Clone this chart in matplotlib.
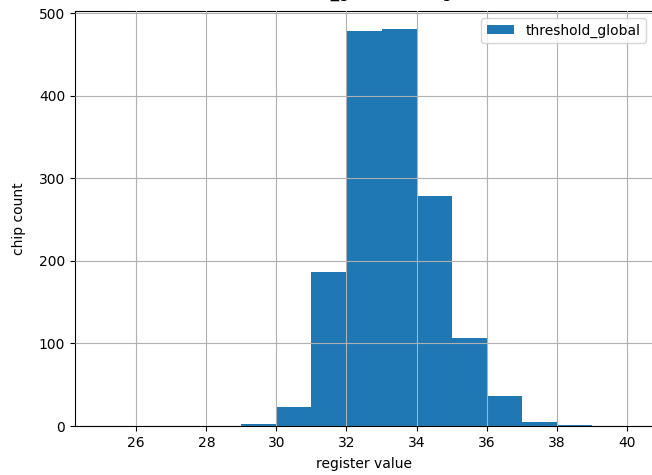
import numpy as np
import matplotlib
matplotlib.use("Agg")
import matplotlib.pyplot as plt

# histogram of threshold_global register values (bin width 1)
bin_edges = list(range(25, 41))
counts = [0, 0, 0, 0, 2, 23, 187, 478, 481, 278, 106, 36, 5, 1, 0]

fig = plt.figure(figsize=(6.52, 4.75), dpi=100)
ax = fig.add_axes([75 / 652, 49 / 475, 578 / 652, 415 / 475])

ax.hist(bin_edges[:-1], bins=bin_edges, weights=counts, color="#1f77b4",
        label="threshold_global")
ax.set_xlim(24.25, 40.75)
ax.set_ylim(0, 502.5)
ax.set_xticks([26, 28, 30, 32, 34, 36, 38, 40])
ax.set_yticks([0, 100, 200, 300, 400, 500])
ax.grid(True)
ax.set_axisbelow(False)
ax.set_xlabel("register value", labelpad=5)
ax.set_ylabel("chip count", labelpad=9)
ax.legend(loc="upper right")

# title sits mostly above the cropped picture, only its lower edge shows
fig.text(291 / 652, 1 + 3 / 475, "Distribution of threshold_global setting",
         ha="center", va="baseline", fontsize=12)

fig.savefig("out.png", dpi=100)
